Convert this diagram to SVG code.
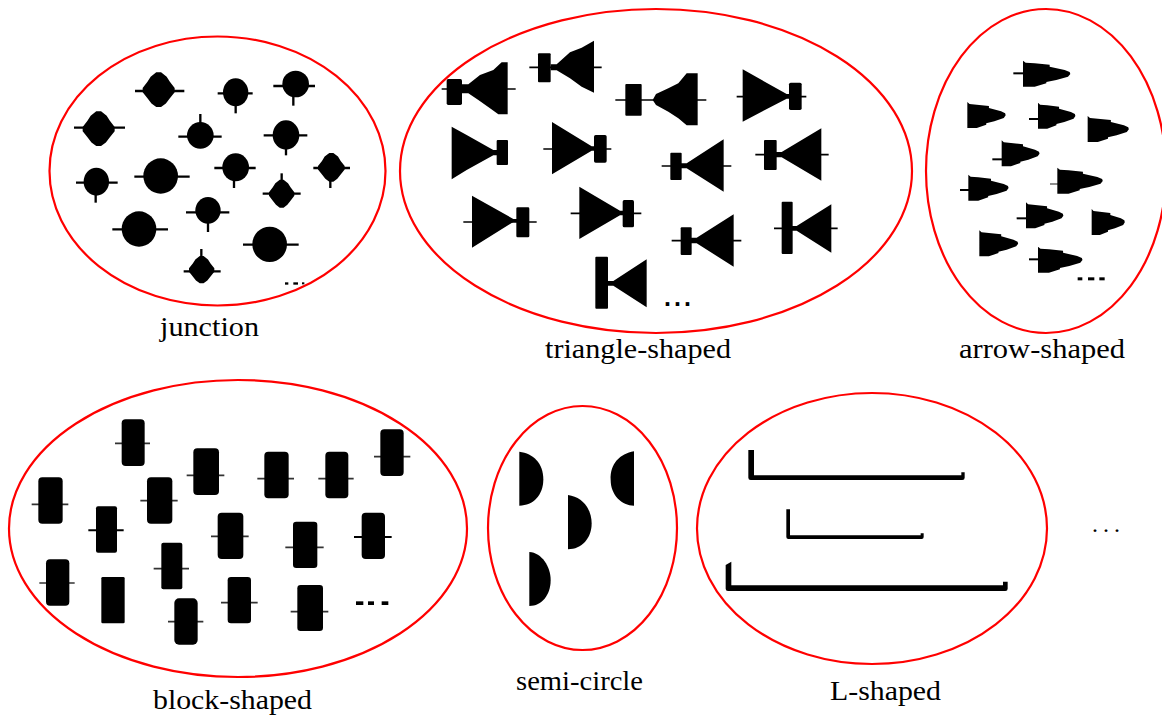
<svg xmlns="http://www.w3.org/2000/svg" width="1162" height="717" viewBox="0 0 1162 717">
<style>
.hull{fill:none;stroke:#f00;stroke-width:2.2}
.lbl{font-family:"Liberation Serif","DejaVu Serif",serif;font-size:27px;fill:#000;text-anchor:start}
.dots{font-family:"Liberation Sans",Arial,sans-serif;font-weight:bold;font-size:25px;fill:#000;letter-spacing:3px}
.thin{font-family:"Liberation Serif",serif;font-size:24px;fill:#000;letter-spacing:5px}
.j line{stroke:#000;stroke-width:7}
.t line{stroke:#000;stroke-width:5}
.b line{stroke:#333;stroke-width:5}
.a line{stroke:#000;stroke-width:6}
.bl rect{fill:#000}
path,polygon,rect,ellipse.k{fill:#000}
</style>
<defs>
<polygon id="d" points="-.15,-1 .15,-1 .5,-.75 .7,-.45 1,-.1 1,.15 .7,.5 .45,.8 .15,1 -.15,1 -.45,.8 -.7,.5 -1,.15 -1,-.1 -.7,-.45 -.5,-.75"/>
<polygon id="ar" points="0,-40 8,-34 35,-32 80,-28 80,-22 125,-12 140,-6 142,0 135,8 100,18 70,24 70,28 35,38 0,38"/>
</defs>
<rect width="1162" height="717" style="fill:#fff"/>

<g id="junction">
<ellipse class="hull" cx="217.5" cy="171" rx="168" ry="134.5"/>
<g transform="translate(40 30) scale(.33333)">
<g id="j1" class="j"><line x1="285" x2="433" y1="183" y2="183"/><use href="#d" transform="translate(356 179) scale(48 52)"/></g>
<g id="j2" class="j"><line x1="533" x2="638" y1="190" y2="190"/><line x1="587" x2="587" y1="190" y2="250"/><ellipse class="k" cx="587" cy="187" rx="38" ry="42"/></g>
<g id="j3" class="j"><line x1="700" x2="825" y1="168" y2="168"/><line x1="760" x2="760" y1="168" y2="227"/><ellipse class="k" cx="767" cy="162" rx="40" ry="40"/></g>
<g id="j4" class="j"><line x1="102" x2="255" y1="293" y2="293"/><use href="#d" transform="translate(176 296) scale(48 52)"/></g>
<g id="j5" class="j"><line x1="415" x2="545" y1="320" y2="320"/><line x1="481" x2="481" y1="252" y2="320"/><ellipse class="k" cx="481" cy="316" rx="40" ry="40"/></g>
<g id="j6" class="j"><line x1="671" x2="802" y1="316" y2="316"/><line x1="738" x2="738" y1="316" y2="376"/><ellipse class="k" cx="738" cy="315" rx="40" ry="44"/></g>
<g id="j7" class="j"><line x1="820" x2="930" y1="414" y2="414"/><line x1="871" x2="871" y1="414" y2="474"/><use href="#d" transform="translate(874 412) scale(40 43)"/></g>
<g id="j8" class="j"><line x1="108" x2="233" y1="458" y2="458"/><line x1="167" x2="167" y1="458" y2="518"/><ellipse class="k" cx="169" cy="455" rx="38" ry="42"/></g>
<g id="j9" class="j"><line x1="283" x2="449" y1="440" y2="440"/><ellipse class="k" cx="362" cy="438" rx="52" ry="53"/></g>
<g id="j10" class="j"><line x1="523" x2="647" y1="414" y2="414"/><line x1="582" x2="582" y1="414" y2="474"/><ellipse class="k" cx="587" cy="412" rx="40" ry="42"/></g>
<g id="j11" class="j"><line x1="668" x2="782" y1="491" y2="491"/><line x1="725" x2="725" y1="430" y2="491"/><use href="#d" transform="translate(725 491) scale(38 42)"/></g>
<g id="j12" class="j"><line x1="438" x2="568" y1="547" y2="547"/><line x1="504" x2="504" y1="547" y2="606"/><ellipse class="k" cx="504" cy="541" rx="38" ry="40"/></g>
<g id="j13" class="j"><line x1="217" x2="384" y1="598" y2="598"/><ellipse class="k" cx="297" cy="597" rx="52" ry="53"/></g>
<g id="j14" class="j"><line x1="609" x2="776" y1="644" y2="644"/><ellipse class="k" cx="689" cy="643" rx="52" ry="53"/></g>
<g id="j15" class="j"><line x1="431" x2="542" y1="724" y2="724"/><line x1="484" x2="484" y1="657" y2="724"/><use href="#d" transform="translate(485 719) scale(38 41)"/></g>
<rect x="735" y="757" width="10" height="7"/><rect x="760" y="757" width="14" height="7"/><rect x="786" y="757" width="7" height="6"/>
</g>
<text class="lbl" x="160" y="336" textLength="99" lengthAdjust="spacingAndGlyphs">junction</text>
</g>

<g id="triangle-shaped">
<ellipse class="hull" cx="656" cy="171" rx="256" ry="162"/>
<g transform="translate(400 20) scale(.33333)">
<g id="t1" class="t"><line x1="125" x2="347" y1="207" y2="207"/><rect x="140" y="177" width="46" height="78" rx="5"/><polygon points="186,193 205,193 240,165 280,150 305,127 323,127 323,283 295,283 270,265 235,240 205,220 186,220"/></g>
<g id="t2" class="t"><line x1="388" x2="605" y1="142" y2="142"/><rect x="414" y="100" width="38" height="87" rx="3"/><polygon points="452,133 470,133 510,97 545,83 582,62 582,218 545,200 510,175 470,151 452,151"/></g>
<g id="t3" class="t"><line x1="646" x2="919" y1="240" y2="240"/><rect x="676" y="192" width="49" height="95" rx="3"/><polygon points="758,240 768,222 805,205 835,190 860,160 893,160 893,316 860,316 835,295 805,275 768,255"/></g>
<g id="t4" class="t"><line x1="1010" x2="1219" y1="230" y2="230"/><polygon points="1028,148 1160,222 1172,222 1172,236 1160,236 1028,305"/><rect x="1167" y="188" width="38" height="82" rx="5"/></g>
<g id="t5" class="t"><polygon points="155,320 200,345 280,390 295,390 295,406 280,406 200,450 155,478"/><rect x="290" y="360" width="34" height="75" rx="3"/></g>
<g id="t6" class="t"><line x1="430" x2="634" y1="387" y2="387"/><polygon points="456,306 575,379 590,379 590,392 575,392 456,463"/><rect x="582" y="345" width="38" height="83" rx="5"/></g>
<g id="t7" class="t"><line x1="785" x2="994" y1="438" y2="438"/><rect x="811" y="398" width="34" height="82" rx="3"/><polygon points="840,430 860,430 971,358 971,515 860,445 840,445"/></g>
<g id="t8" class="t"><line x1="1066" x2="1286" y1="404" y2="404"/><rect x="1092" y="360" width="38" height="90" rx="3"/><polygon points="1125,396 1145,396 1264,325 1264,482 1145,412 1125,412"/></g>
<g id="t9" class="t"><line x1="190" x2="410" y1="606" y2="606"/><polygon points="216,527 340,597 355,597 355,606 340,606 216,683"/><rect x="349" y="562" width="39" height="90" rx="4"/></g>
<g id="t10" class="t"><line x1="512" x2="724" y1="580" y2="580"/><polygon points="538,500 660,572 675,572 675,586 660,586 538,657"/><rect x="668" y="540" width="34" height="82" rx="5"/></g>
<g id="t11" class="t"><line x1="815" x2="1024" y1="662" y2="662"/><rect x="842" y="622" width="33" height="83" rx="3"/><polygon points="870,653 890,653 1001,583 1001,740 890,670 870,670"/></g>
<g id="t12" class="t"><line x1="1122" x2="1313" y1="625" y2="625"/><rect x="1145" y="545" width="33" height="157" rx="3"/><polygon points="1175,618 1190,618 1294,553 1294,698 1190,632 1175,632"/></g>
<g id="t13" class="t"><rect x="586" y="710" width="38" height="156" rx="3"/><polygon points="620,783 640,783 740,718 740,862 640,797 620,797"/></g>
</g>
<text class="dots" x="664" y="306" style="font-size:25px">...</text>
<text class="lbl" x="545" y="358" textLength="186" lengthAdjust="spacingAndGlyphs">triangle-shaped</text>
</g>

<g id="arrow-shaped">
<ellipse class="hull" cx="1046" cy="171" rx="120" ry="162"/>
<g transform="translate(930 40) scale(.33333)">
<g id="a1" class="a"><line x1="250" x2="285" y1="100" y2="100"/><use href="#ar" transform="translate(279 102) scale(1 1)"/></g>
<g id="a2" class="a"><use href="#ar" transform="translate(112 226) scale(.81 1)"/></g>
<g id="a3" class="a"><line x1="297" x2="330" y1="237" y2="237"/><use href="#ar" transform="translate(324 228) scale(.79 1)"/></g>
<g id="a4" class="a"><use href="#ar" transform="translate(473 268) scale(.87 1)"/></g>
<g id="a5" class="a"><line x1="187" x2="220" y1="358" y2="358"/><use href="#ar" transform="translate(215 341) scale(.8 1)"/></g>
<g id="a6" class="a"><line x1="90" x2="120" y1="450" y2="450"/><use href="#ar" transform="translate(115 444) scale(.85 1)"/></g>
<g id="a7" class="a"><line x1="360" x2="390" y1="432" y2="432" style="stroke:#555;stroke-width:4"/><use href="#ar" transform="translate(382 423) scale(.96 1)"/></g>
<g id="a8" class="a"><line x1="260" x2="295" y1="535" y2="535"/><use href="#ar" transform="translate(288 527) scale(.79 1)"/></g>
<g id="a9" class="a"><use href="#ar" transform="translate(485 547) scale(.7 1)"/></g>
<g id="a10" class="a"><use href="#ar" transform="translate(148 611) scale(.82 1)"/></g>
<g id="a11" class="a"><line x1="297" x2="330" y1="658" y2="658"/><use href="#ar" transform="translate(324 660) scale(.94 1)"/></g>
<rect x="443" y="712" width="14" height="9"/><rect x="474" y="712" width="19" height="9"/><rect x="508" y="712" width="16" height="9"/>
</g>
<text class="lbl" x="959" y="358" textLength="166" lengthAdjust="spacingAndGlyphs">arrow-shaped</text>
</g>

<g id="block-shaped">
<ellipse class="hull" cx="238" cy="528.5" rx="229" ry="148.5"/>
<g transform="translate(20 410) scale(.33333)">
<g id="b1" class="b"><line x1="285" x2="390" y1="100" y2="100"/><rect x="305" y="28" width="69" height="140" rx="12"/></g>
<g id="b2" class="b"><line x1="500" x2="613" y1="196" y2="196"/><rect x="520" y="115" width="77" height="140" rx="12"/></g>
<g id="b3" class="b"><line x1="712" x2="822" y1="206" y2="206"/><rect x="733" y="125" width="73" height="140" rx="12"/></g>
<g id="b4" class="b"><line x1="895" x2="1001" y1="206" y2="206"/><rect x="916" y="125" width="69" height="140" rx="12"/></g>
<g id="b5" class="b"><line x1="1062" x2="1171" y1="140" y2="140"/><rect x="1081" y="58" width="70" height="140" rx="12"/></g>
<g id="b6" class="b"><line x1="35" x2="145" y1="283" y2="283"/><rect x="55" y="202" width="73" height="139" rx="12"/></g>
<g id="b7" class="b"><line x1="361" x2="473" y1="272" y2="272"/><rect x="381" y="202" width="76" height="139" rx="12"/></g>
<g id="b8" class="b"><line x1="205" x2="311" y1="361" y2="361" style="stroke:#000;stroke-width:6"/><rect x="228" y="289" width="63" height="139" rx="6"/></g>
<g id="b9" class="b"><line x1="573" x2="686" y1="379" y2="379"/><rect x="593" y="308" width="77" height="139" rx="12"/></g>
<g id="b10" class="b"><line x1="796" x2="911" y1="412" y2="412"/><rect x="819" y="335" width="73" height="139" rx="10"/></g>
<g id="b11" class="b"><line x1="1002" x2="1115" y1="381" y2="381" style="stroke:#000;stroke-width:6"/><rect x="1025" y="308" width="70" height="139" rx="12"/></g>
<g id="b12" class="b"><line x1="401" x2="507" y1="476" y2="476"/><rect x="424" y="398" width="63" height="140" rx="6"/></g>
<g id="b13" class="b"><line x1="58" x2="164" y1="519" y2="519"/><rect x="78" y="448" width="70" height="139" rx="12"/></g>
<g id="b14" class="b"><rect x="244" y="501" width="70" height="139" rx="4"/></g>
<g id="b15" class="b"><line x1="603" x2="713" y1="578" y2="578"/><rect x="623" y="501" width="70" height="139" rx="10"/></g>
<g id="b16" class="b"><line x1="812" x2="925" y1="605" y2="605"/><rect x="832" y="525" width="77" height="138" rx="10"/></g>
<g id="b17" class="b"><line x1="444" x2="550" y1="635" y2="635"/><rect x="463" y="565" width="70" height="139" rx="14"/></g>
<rect x="1008" y="574" width="22" height="11"/><rect x="1044" y="574" width="18" height="11"/><rect x="1085" y="574" width="20" height="11"/>
</g>
<text class="lbl" x="153" y="709" textLength="159" lengthAdjust="spacingAndGlyphs">block-shaped</text>
</g>

<g id="semi-circle">
<ellipse class="hull" cx="582.5" cy="528" rx="94.5" ry="122"/>
<g transform="translate(500 430) scale(.33333)">
<path id="s1" d="M58 65 C100 70 130 100 130 148 C130 195 100 227 58 227Z"/>
<path id="s2" d="M402 64 C360 72 330 100 332 150 C332 195 365 227 402 227Z"/>
<path id="s3" d="M204 195 C245 200 275 235 275 280 C275 325 245 358 204 358Z"/>
<path id="s4" d="M88 366 C125 368 152 410 152 450 C152 495 125 528 88 528Z"/>
</g>
<text class="lbl" x="516" y="690" textLength="127" lengthAdjust="spacingAndGlyphs">semi-circle</text>
</g>

<g id="l-shaped">
<ellipse class="hull" cx="872" cy="528.5" rx="175" ry="135.5"/>
<g transform="translate(500 430) scale(.33333)">
<path id="l1" d="M745 60H762V136H1384V127H1394V143Q1394 150 1387 150H752Q745 150 745 143Z"/>
<path id="l2" d="M859 238H870V316H1262V310H1271V321Q1271 327 1265 327H865Q859 327 859 321Z"/>
<path id="l3" d="M677 405L694 395V466H1509V455H1523V476Q1523 483 1516 483H684Q677 483 677 476Z"/>
</g>
<text class="lbl" x="830" y="700" textLength="111" lengthAdjust="spacingAndGlyphs">L-shaped</text>
</g>

<text id="more" class="thin" x="1092" y="532">...</text>
</svg>
